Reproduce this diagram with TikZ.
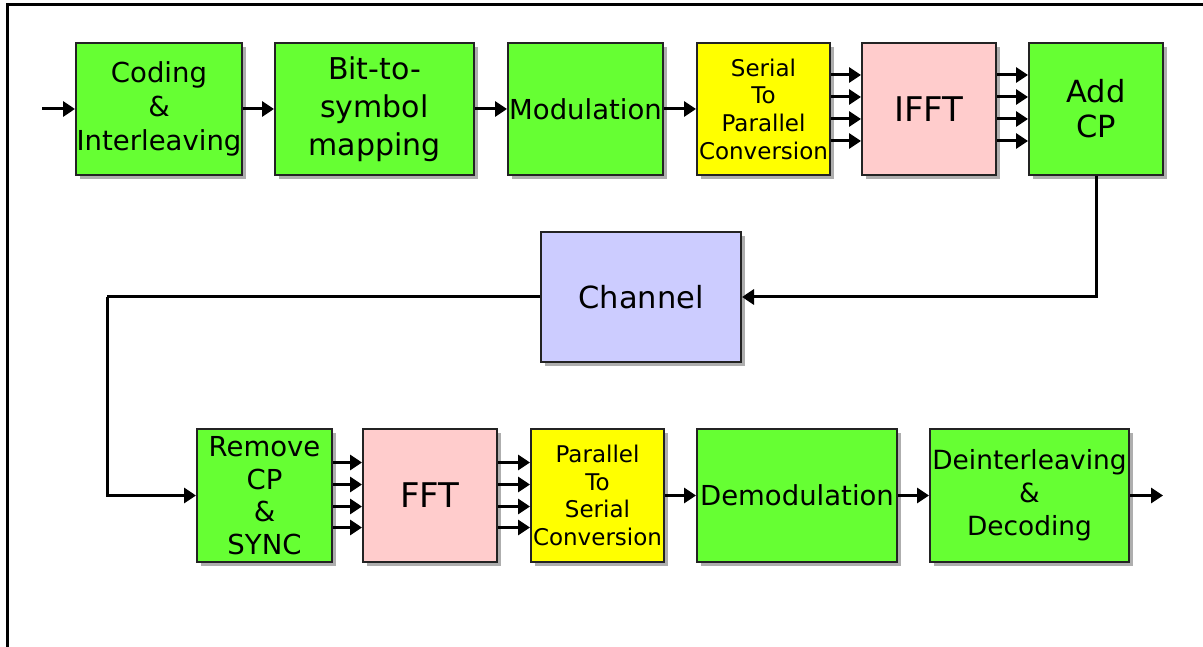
\documentclass[tikz,border=0pt]{standalone}
\usepackage{fontspec}
\setmainfont{DejaVu Sans}
\usetikzlibrary{arrows.meta,shadows}

\definecolor{blkgreen}{RGB}{102,255,51}
\definecolor{blkyellow}{RGB}{255,255,0}
\definecolor{blkpink}{RGB}{255,204,204}
\definecolor{blkblue}{RGB}{204,204,255}
\definecolor{edgegray}{RGB}{35,35,35}

\tikzset{
  block/.style={draw=edgegray, line width=2pt, inner sep=0pt, align=center,
    drop shadow={shadow xshift=4pt, shadow yshift=-4pt, fill=black!45, opacity=0.7}},
  green/.style={block, fill=blkgreen},
  yellow/.style={block, fill=blkyellow},
  pink/.style={block, fill=blkpink},
  lilac/.style={block, fill=blkblue},
  arr/.style={line width=3pt, -{Triangle[length=12pt,width=15pt]}},
  wire/.style={line width=3pt},
  txtA/.style={font=\fontsize{27.5}{34}\selectfont},
  txtD/.style={font=\fontsize{26.4}{33}\selectfont},
  txtB/.style={font=\fontsize{30}{38}\selectfont},
  txtS/.style={font=\fontsize{23}{27.7}\selectfont},
  txtL/.style={font=\fontsize{34}{38}\selectfont},
  txtC/.style={font=\fontsize{30.5}{35}\selectfont},
  txtR/.style={font=\fontsize{27.5}{32.5}\selectfont},
}

\begin{document}
\begin{tikzpicture}[x=1pt,y=-1pt]
\useasboundingbox (0,0) rectangle (1203,647);
\clip (0,0) rectangle (1203,647);

% outer frame (top and left edges)
\draw[line width=3pt] (7,650) -- (7,5) -- (1210,5);

% transmitter chain
\node[green, txtA, minimum width=166pt, minimum height=132pt] (code) at (159,109) {Coding\\\&\\Interleaving};
\node[green, txtB, minimum width=199pt, minimum height=132pt] (map) at (374.5,109) {Bit-to-\\symbol\\mapping};
\node[green, txtA, minimum width=155pt, minimum height=132pt] (mod) at (585.5,109) {Modulation};
\node[yellow, txtS, minimum width=133pt, minimum height=132pt] (sp) at (763.5,109) {Serial\\To\\Parallel\\Conversion};
\node[pink, txtL, minimum width=134pt, minimum height=132pt] (ifft) at (929,109) {IFFT};
\node[green, txtC, minimum width=134pt, minimum height=132pt] (addcp) at (1096,109) {Add\\CP};

% channel
\node[lilac, txtC, minimum width=200pt, minimum height=130pt] (chan) at (641,297) {Channel};

% receiver chain
\node[green, txtR, minimum width=135pt, minimum height=133pt] (rmcp) at (264.5,495.5) {Remove\\CP\\\&\\SYNC};
\node[pink, txtL, minimum width=134pt, minimum height=133pt] (fft) at (430,495.5) {FFT};
\node[yellow, txtS, minimum width=133pt, minimum height=133pt] (ps) at (597.5,495.5) {Parallel\\To\\Serial\\Conversion};
\node[green, txtA, minimum width=200pt, minimum height=133pt] (demod) at (797,495.5) {Demodulation};
\node[green, txtD, minimum width=199pt, minimum height=133pt] (deint) at (1029.5,495.5) {Deinterleaving\\\&\\Decoding};

% free ends and bend points
\coordinate (src) at (42,109);
\coordinate (sink) at (1163,495.5);
\coordinate (loop) at (107,297);

% serial links
\draw[arr] (src) -- (code.west);
\draw[arr] (code.east) -- (map.west);
\draw[arr] (map.east) -- (mod.west);
\draw[arr] (mod.east) -- (sp.west);

% parallel links
\foreach \d in {-34,-12,10,32}{
  \draw[arr] ([yshift=-\d pt]sp.east) -- ([yshift=-\d pt]ifft.west);
  \draw[arr] ([yshift=-\d pt]ifft.east) -- ([yshift=-\d pt]addcp.west);
}
\foreach \d in {-33,-11,11,32}{
  \draw[arr] ([yshift=-\d pt]rmcp.east) -- ([yshift=-\d pt]fft.west);
  \draw[arr] ([yshift=-\d pt]fft.east) -- ([yshift=-\d pt]ps.west);
}

% through the channel
\draw[arr] (addcp.south) |- (chan.east);
\draw[wire] (chan.west) -- (loop);
\draw[arr] (loop) |- (rmcp.west);

% receiver serial links
\draw[arr] (ps.east) -- (demod.west);
\draw[arr] (demod.east) -- (deint.west);
\draw[arr] (deint.east) -- (sink);
\end{tikzpicture}
\end{document}
